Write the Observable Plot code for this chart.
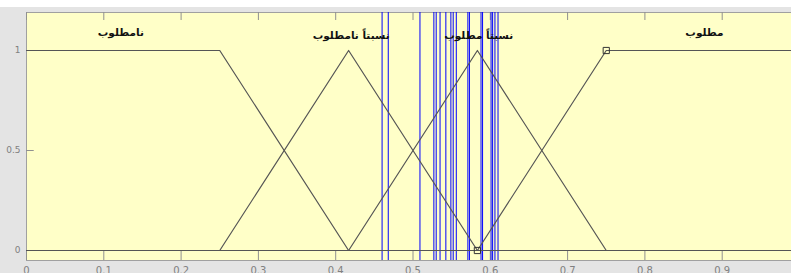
<!DOCTYPE html>
<html>
<head>
<meta charset="utf-8">
<script src="https://cdn.jsdelivr.net/npm/d3@7"></script>
<script src="https://cdn.jsdelivr.net/npm/@observablehq/plot@0.6"></script>
<style>
  html, body { margin: 0; padding: 0; overflow: hidden; background: #fff; }
  #chart { width: 791px; height: 273px; overflow: hidden; }
  #chart svg { display: block; max-width: none !important; background: linear-gradient(#ffffff 0 7px, #e4e4e4 7px 100%); }
</style>
</head>
<body>
<div id="chart"></div>
<script>
// Membership function names (Arabic)
const mfNames = ["نامطلوب", "نسبتاً نامطلوب", "نسبتاً مطلوب", "مطلوب"];
// Membership function vertices
const mf1X = [0, 0.25, 0.4167, 1];
const mf1Y = [1, 1, 0, 0];
const mf2X = [0, 0.25, 0.4167, 0.5833, 1];
const mf2Y = [0, 0, 1, 0, 0];
const mf3X = [0, 0.4167, 0.5833, 0.75, 1];
const mf3Y = [0, 0, 1, 0, 0];
const mf4X = [0, 0.5833, 0.75, 1];
const mf4Y = [0, 0, 1, 1];
// Label anchor values
const labelX = [0.122, 0.42, 0.585, 0.877];
const labelY = [1.09, 1.075, 1.075, 1.09];
// Blue vertical lines (input values)
const blueX = [0.46, 0.468, 0.509, 0.527, 0.530, 0.535, 0.5425, 0.549, 0.552, 0.556,
               0.571, 0.573, 0.588, 0.590, 0.601, 0.603, 0.606, 0.610];
// Marked vertices
const markX = [0.5833, 0.75];
const markY = [0, 1];
// Ticks
const xTicks = [0, 0.1, 0.2, 0.3, 0.4, 0.5, 0.6, 0.7, 0.8, 0.9, 1];
const xTickLabels = ["0", "0.1", "0.2", "0.3", "0.4", "0.5", "0.6", "0.7", "0.8", "0.9", "1"];
const yTicks = [0, 0.5, 1];
const yTickLabels = ["0", "0.5", "1"];

const yDomain = [-0.05, 1.19];
const series = [[mf1X, mf1Y], [mf2X, mf2Y], [mf3X, mf3Y], [mf4X, mf4Y]]
  .map(([xs, ys], k) => xs.map((x, i) => ({mf: k, x, y: ys[i]}))).flat();
const labels = mfNames.map((name, i) => ({name, x: labelX[i], y: labelY[i]}));
const marks = markX.map((x, i) => ({x, y: markY[i]}));

const chart = Plot.plot({
  width: 800,
  height: 273,
  marginLeft: 26,
  marginRight: 1,
  marginTop: 12,
  marginBottom: 13,
  x: {domain: [0, 1]},
  y: {domain: yDomain},
  style: {fontFamily: "DejaVu Sans, sans-serif", fontSize: "9px", color: "#808080"},
  marks: [
    Plot.frame({fill: "#ffffc8", stroke: "#a0a0a0"}),
    // inward ticks, bottom and top
    Plot.ruleX(xTicks, {x: d => d, y1: yDomain[0], y2: yDomain[0] + 0.05, stroke: "#909090"}),
    Plot.ruleX(xTicks, {x: d => d, y1: yDomain[1], y2: yDomain[1] - 0.04, stroke: "#909090"}),
    Plot.ruleY(yTicks, {y: d => d, x1: 0, x2: 0.01, stroke: "#909090"}),
    Plot.axisX(xTicks, {tickSize: 0, tickPadding: 6, tickFormat: (d, i) => xTickLabels[i], fill: "#808080", fontSize: 10, label: null}),
    Plot.axisY(yTicks, {tickSize: 0, tickPadding: 6, tickFormat: (d, i) => yTickLabels[i], fill: "#808080", fontSize: 9, label: null}),
    Plot.ruleX(blueX, {x: d => d, stroke: "#0000ff", strokeWidth: 1}),
    Plot.line(series, {x: "x", y: "y", z: "mf", stroke: "#555555", strokeWidth: 1.2}),
    Plot.dot(marks, {x: "x", y: "y", symbol: "square", r: 3.5, stroke: "#333", fill: "none", strokeWidth: 1}),
    Plot.text(labels, {x: "x", y: "y", text: "name", fill: "#111", fontSize: 10.5, fontWeight: "bold", fontFamily: "DejaVu Sans, sans-serif"})
  ]
});
document.getElementById("chart").appendChild(chart);
</script>
</body>
</html>
